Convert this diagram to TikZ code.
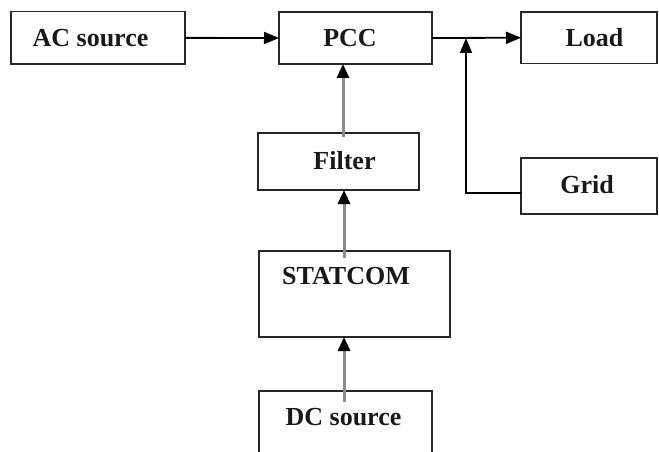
\documentclass[tikz,border=0pt]{standalone}
\usepackage{fontspec}
\setmainfont{Liberation Serif}
\usetikzlibrary{arrows.meta}
\begin{document}
\begin{tikzpicture}[x=1pt,y=-1pt,
  blockbox/.style={draw=black!85,line width=1.6pt,fill=white,inner sep=0pt,outer sep=0pt},
  lbl/.style={anchor=base,inner sep=0pt,font=\fontsize{26}{30}\selectfont\bfseries,text=black!90},
  harr/.style={line width=1.8pt,draw=black,-{Triangle[length=15pt,width=12pt]}},
  varr/.style={line width=3pt,draw=black!45,-{Triangle[length=14pt,width=12pt,color=black]}},
  plain/.style={line width=1.8pt,draw=black}]
\clip (0,0) rectangle (659,452);
\fill[white] (0,0) rectangle (659,452);
% boxes
\node[blockbox,minimum width=174.3pt,minimum height=52.3pt] (ac) at (97.85,37.85) {};
\node[blockbox,minimum width=153pt,minimum height=52pt] (pcc) at (355.5,38) {};
\node[blockbox,minimum width=136pt,minimum height=51.5pt] (load) at (589,37.75) {};
\node[blockbox,minimum width=136pt,minimum height=56pt] (grid) at (589,186) {};
\node[blockbox,minimum width=161pt,minimum height=57pt] (filter) at (338.5,161.5) {};
\node[blockbox,minimum width=191pt,minimum height=86pt] (statcom) at (354.5,294) {};
\node[blockbox,minimum width=173pt,minimum height=79pt] (dc) at (345.5,430.5) {};
% labels
\node[lbl] (tac) at (90.5,47) {AC source};
\node[lbl] (tpcc) at (350,46.7) {PCC};
\node[lbl] (tload) at (594.5,47) {Load};
\node[lbl] (tgrid) at (587,193) {Grid};
\node[lbl] (tfilter) at (344.5,169) {Filter};
\node[lbl] (tstatcom) at (346,284) {STATCOM};
\node[lbl] (tdc) at (343.5,425) {DC source};
% connectors
\coordinate (junc) at (466,38);
\draw[harr] (ac.east) -- (pcc.west);
\draw[harr] (pcc.east) -- (load.west);
\draw[plain,-{Triangle[length=15pt,width=12pt]}] ([yshift=-7pt]grid.west) -| (junc);
\draw[varr] ([xshift=4.5pt,yshift=-4pt]filter.north) -- ([xshift=4.5pt]filter.north |- pcc.south);
\draw[varr] ([xshift=-10.5pt,yshift=-7pt]statcom.north) -- ([xshift=-10.5pt]statcom.north |- filter.south);
\draw[varr] ([xshift=-1.5pt,yshift=-11pt]dc.north) -- ([xshift=-1.5pt]dc.north |- statcom.south);
\end{tikzpicture}
\end{document}
